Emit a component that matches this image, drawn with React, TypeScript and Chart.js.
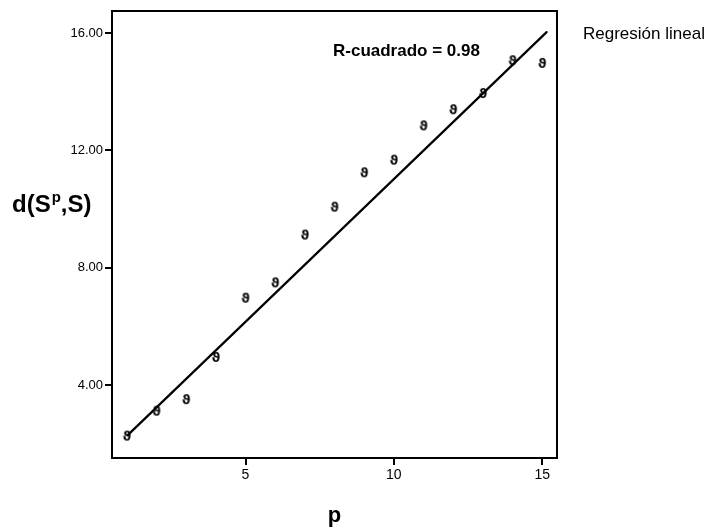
import React, { useEffect, useRef } from "react";
import { Chart, registerables } from "chart.js";

Chart.register(...registerables);

// ---- data ----
const pValues = [1, 2, 3, 4, 5, 6, 7, 8, 9, 10, 11, 12, 13, 14, 15];
const distValues = [2.25, 3.1, 3.49, 4.93, 6.95, 7.47, 9.1, 10.05, 11.22, 11.65, 12.82, 13.37, 13.92, 15.04, 14.95];
const fitP = [1.03, 15.15];
const fitD = [2.3, 16.03];
const xTicks = [5, 10, 15];
const yTicks = [4, 8, 12, 16];
const xRange = [0.5, 15.5];
const yRange = [1.52, 16.75];
const rSquaredLabel = "R-cuadrado = 0.98";
const legendLabel = "Regresión lineal";
const xTitle = "p";
const yTitleParts = ["d(S", "p", ",S)"];

const FONT = "'Liberation Sans', Arial, sans-serif";

function makeMarker(): HTMLCanvasElement {
  const c = document.createElement("canvas");
  c.width = 10;
  c.height = 14;
  const ctx = c.getContext("2d")!;
  ctx.fillStyle = "#000";
  ctx.font = "bold 13px 'DejaVu Sans'";
  ctx.textAlign = "center";
  ctx.textBaseline = "middle";
  ctx.fillText("ϑ", 5, 7.5);
  return c;
}

const annotations = {
  id: "annotations",
  afterDraw(chart: any) {
    const { ctx, chartArea } = chart;
    const { left, right, top, bottom } = chartArea;
    ctx.save();
    // frame
    ctx.strokeStyle = "#000";
    ctx.lineWidth = 2;
    ctx.strokeRect(left, top, right - left, bottom - top);
    ctx.fillStyle = "#000";
    ctx.textBaseline = "alphabetic";
    // R squared
    ctx.font = `bold 17px ${FONT}`;
    ctx.textAlign = "left";
    ctx.fillText(rSquaredLabel, left + 221, top + 45);
    // legend label
    ctx.font = `17px ${FONT}`;
    ctx.fillText(legendLabel, right + 26, top + 28);
    // x title
    ctx.font = `bold 22px ${FONT}`;
    ctx.textAlign = "center";
    ctx.fillText(xTitle, (left + right) / 2, 522);
    // y title with superscript
    ctx.textAlign = "left";
    let x = 12;
    const base = 212;
    ctx.font = `bold 24px ${FONT}`;
    ctx.fillText(yTitleParts[0], x, base);
    x += ctx.measureText(yTitleParts[0]).width;
    ctx.font = `bold 15px ${FONT}`;
    ctx.fillText(yTitleParts[1], x + 1, base - 10);
    x += ctx.measureText(yTitleParts[1]).width + 1;
    ctx.font = `bold 24px ${FONT}`;
    ctx.fillText(yTitleParts[2], x, base);
    ctx.restore();
  },
};

export default function App() {
  const ref = useRef<HTMLCanvasElement>(null);
  useEffect(() => {
    const marker = makeMarker();
    const chart = new Chart(ref.current!, {
      type: "scatter",
      data: {
        datasets: [
          {
            label: "Observado",
            data: pValues.map((p, i) => ({ x: p, y: distValues[i] })),
            pointStyle: marker as any,
            pointRadius: 5,
            showLine: false,
          },
          {
            label: legendLabel,
            data: fitP.map((p, i) => ({ x: p, y: fitD[i] })),
            showLine: true,
            borderColor: "#000",
            borderWidth: 2.2,
            pointRadius: 0,
            borderCapStyle: "round",
          },
        ],
      },
      options: {
        responsive: false,
        animation: false,
        events: [],
        layout: { padding: { left: 0, top: 11, right: 152, bottom: 0 } },
        plugins: { legend: { display: false }, tooltip: { enabled: false } },
        scales: {
          x: {
            type: "linear",
            min: xRange[0],
            max: xRange[1],
            afterBuildTicks: (s: any) => {
              s.ticks = xTicks.map((v) => ({ value: v }));
            },
            afterFit: (s: any) => {
              s.height = 71;
            },
            grid: {
              drawOnChartArea: false,
              drawTicks: true,
              tickLength: 7,
              color: "#000",
              lineWidth: 2,
            },
            border: { display: false },
            ticks: {
              color: "#000",
              padding: 2,
              font: { family: FONT, size: 14 },
              maxRotation: 0,
              callback: (v: any) => String(v),
            },
          },
          y: {
            type: "linear",
            min: yRange[0],
            max: yRange[1],
            afterBuildTicks: (s: any) => {
              s.ticks = yTicks.map((v) => ({ value: v }));
            },
            afterFit: (s: any) => {
              s.width = 112;
            },
            grid: {
              drawOnChartArea: false,
              drawTicks: true,
              tickLength: 7,
              color: "#000",
              lineWidth: 2,
            },
            border: { display: false },
            ticks: {
              color: "#000",
              padding: 2,
              font: { family: FONT, size: 13 },
              callback: (v: any) => Number(v).toFixed(2),
            },
          },
        },
      },
      plugins: [annotations],
    });
    return () => chart.destroy();
  }, []);
  return (
    <div style={{ position: "fixed", left: 0, top: 0, width: 709, height: 529, background: "#fff" }}>
      <canvas ref={ref} width={709} height={529} style={{ display: "block" }} />
    </div>
  );
}
